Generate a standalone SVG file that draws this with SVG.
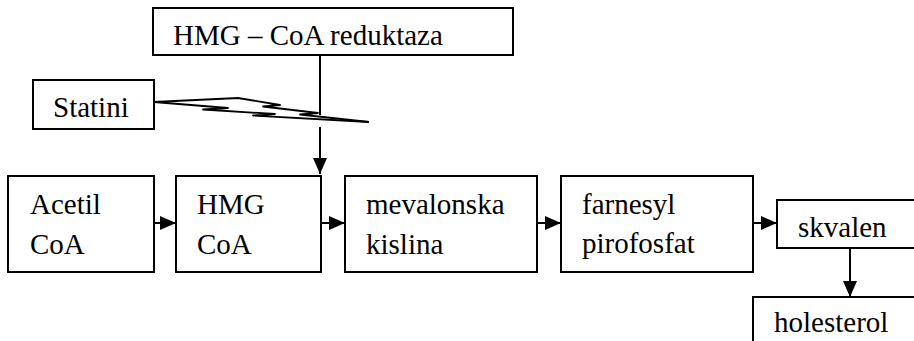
<svg xmlns="http://www.w3.org/2000/svg" width="914" height="341" viewBox="0 0 914 341">
<style>
.box{fill:#fff;stroke:#000;stroke-width:2}
.t{font-family:'Liberation Serif','Times New Roman',serif;font-size:29px;fill:#000}
.ln{stroke:#000;stroke-width:2;fill:none}
.bolt{stroke:#000;stroke-width:1.8;fill:none;stroke-linejoin:round}
</style>
<defs>
<marker id="ah" viewBox="0 0 16 14" refX="16" refY="7" markerWidth="16" markerHeight="14" markerUnits="userSpaceOnUse" orient="auto">
<path d="M0,0 L16,7 L0,14 Z" fill="#000"/>
</marker>
</defs>
<rect width="914" height="341" fill="#fff"/>
<g id="reduktaza"><rect class="box" x="153" y="8" width="360" height="47"/><text class="t" x="173" y="45">HMG – CoA reduktaza</text></g>
<g id="statini"><rect class="box" x="33" y="80" width="121" height="49"/><text class="t" x="53" y="117">Statini</text></g>
<g id="acetil"><rect class="box" x="8" y="176" width="146" height="96"/><text class="t" x="30" y="214">Acetil</text><text class="t" x="30" y="254">CoA</text></g>
<g id="hmgcoa"><rect class="box" x="176" y="176" width="145" height="96"/><text class="t" x="197" y="214">HMG</text><text class="t" x="197" y="254">CoA</text></g>
<g id="mevalonska"><rect class="box" x="345" y="176" width="192" height="96"/><text class="t" x="366" y="214">mevalonska</text><text class="t" x="366" y="254">kislina</text></g>
<g id="farnesyl"><rect class="box" x="561" y="176" width="192" height="96"/><text class="t" x="582" y="214">farnesyl</text><text class="t" x="582" y="253">pirofosfat</text></g>
<g id="skvalen"><rect class="box" x="777" y="200" width="160" height="48"/><text class="t" x="798" y="237">skvalen</text></g>
<g id="holesterol"><rect class="box" x="753" y="297" width="180" height="60"/><text class="t" x="774" y="332">holesterol</text></g>
<g id="connectors">
<path class="ln" d="M320,55 V115"/>
<path class="ln" d="M320,127 V174" marker-end="url(#ah)"/>
<path class="ln" d="M154,223 H176" marker-end="url(#ah)"/>
<path class="ln" d="M321,223 H345" marker-end="url(#ah)"/>
<path class="ln" d="M537,223 H561" marker-end="url(#ah)"/>
<path class="ln" d="M753,223 H777" marker-end="url(#ah)"/>
<path class="ln" d="M850,248 V297" marker-end="url(#ah)"/>
<path class="bolt" d="M154,102 L238,98 L280,105 L263,106.5 L318,113 L300,114.5 L369,122"/>
<path class="bolt" d="M154,102 L228,108 L203,109.5 L275,114 L253,115.5 L369,122"/>
</g>
</svg>
